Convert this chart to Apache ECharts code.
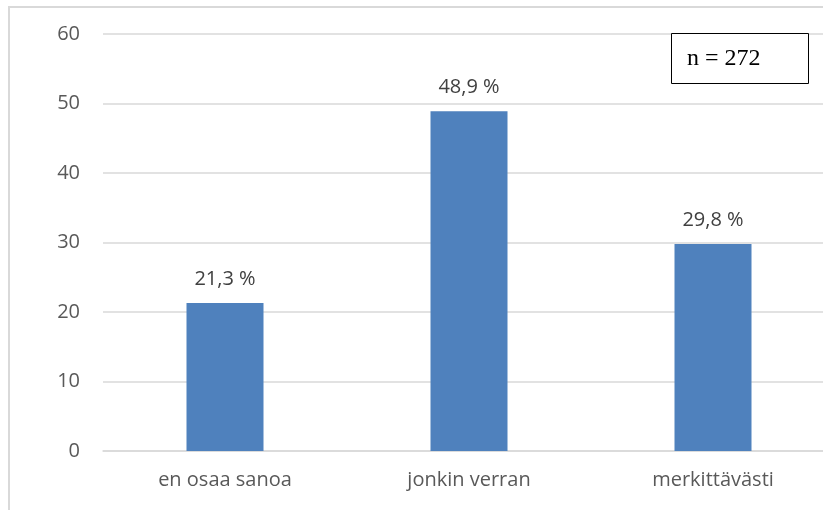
<!DOCTYPE html>
<html>
<head>
<meta charset="utf-8">
<script src="https://cdn.jsdelivr.net/npm/echarts@6/dist/echarts.min.js"></script>
<style>
  html, body { margin: 0; padding: 0; background: #fff; }
  #chart { width: 823px; height: 510px; }
</style>
</head>
<body>
<div id="chart"></div>
<script>
var categories = ['en osaa sanoa', 'jonkin verran', 'merkittävästi'];
var values = [21.3, 48.9, 29.8];
var yTicks = [0, 10, 20, 30, 40, 50, 60];
var sampleNote = 'n = 272';

var myChart = echarts.init(document.getElementById('chart'));
var option = {
    animation: false,
    grid: {
        top: 34,
        left: 103,
        width: 732,
        bottom: 59,
        containLabel: false,
        outerBoundsMode: 'none'
    },
    xAxis: {
        type: 'category',
        data: categories,
        axisLine: { lineStyle: { color: '#d9d9d9', width: 1.5 } },
        axisTick: { show: false },
        axisLabel: {
            color: '#595959',
            fontFamily: 'Open Sans',
            fontSize: 20,
            margin: 19
        }
    },
    yAxis: {
        type: 'value',
        min: yTicks[0],
        max: yTicks[yTicks.length - 1],
        interval: 10,
        axisLine: { show: false },
        axisTick: { show: false },
        splitLine: { lineStyle: { color: '#d9d9d9', width: 1.5 } },
        axisLabel: {
            color: '#595959',
            fontFamily: 'Open Sans',
            fontSize: 20,
            margin: 23
        }
    },
    series: [
        {
            type: 'bar',
            data: values,
            barWidth: 77,
            itemStyle: { color: '#4f81bd' },
            label: {
                show: true,
                position: 'top',
                distance: 14,
                color: '#404040',
                fontFamily: 'Open Sans',
                fontSize: 20,
                formatter: function (p) {
                    return p.value.toFixed(1).replace('.', ',') + ' %';
                }
            }
        }
    ],
    graphic: [
        {
            type: 'rect',
            shape: { x: 9, y: 7, width: 900, height: 600 },
            style: { fill: 'none', stroke: '#d9d9d9', lineWidth: 2 },
            silent: true
        },
        {
            type: 'rect',
            shape: { x: 671.5, y: 33.5, width: 137, height: 50 },
            style: { fill: '#fff', stroke: '#000', lineWidth: 1 },
            z: 10
        },
        {
            type: 'text',
            x: 687,
            y: 59,
            z: 11,
            style: {
                text: sampleNote,
                fill: '#000',
                font: '24px "Liberation Serif"',
                textVerticalAlign: 'middle'
            }
        }
    ]
};
myChart.setOption(option);
</script>
</body>
</html>
